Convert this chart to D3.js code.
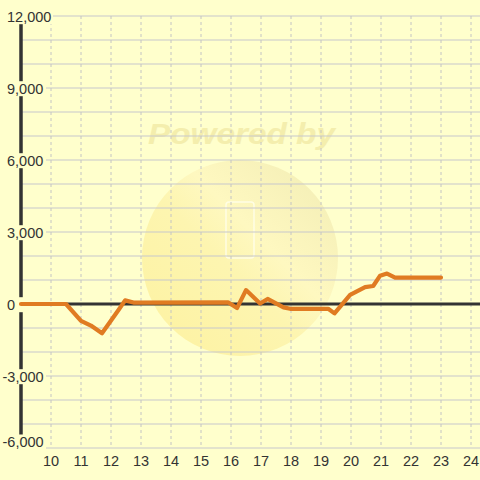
<!DOCTYPE html>
<html><head><meta charset="utf-8">
<script src="https://cdn.jsdelivr.net/npm/d3@7"></script>
<style>html,body{margin:0;padding:0;background:#ffffcc;}svg{display:block;}</style>
</head><body>
<script>
const hours = [9, 10.5, 11.0, 11.33, 11.7, 12.25, 12.47, 12.75, 15.9, 16.2, 16.5, 16.97, 17.22, 17.75, 17.97, 19.24, 19.45, 19.97, 20.47, 20.74, 20.97, 21.2, 21.47, 23.0];
const values = [0, 0, -700, -900, -1220, -250, 150, 60, 70, -170, 580, 20, 210, -140, -200, -200, -390, 380, 700, 750, 1180, 1270, 1100, 1100];
const xTicks = [10, 11, 12, 13, 14, 15, 16, 17, 18, 19, 20, 21, 22, 23, 24];
const yLabelTicks = [12000, 9000, 6000, 3000, 0, -3000, -6000];
const yGridTicks = d3.range(-6000, 12001, 1000);

const W = 480, H = 480;
const svg = d3.select("body").append("svg").attr("width", W).attr("height", H);
const x = d3.scaleLinear().domain([9, 24.3]).range([21, 480]);
const y = d3.scaleLinear().domain([-6000, 12000]).range([448, 16]);

svg.append("rect").attr("width", W).attr("height", H).attr("fill", "#ffffcc");

// watermark
const defs = svg.append("defs");
const g = defs.append("linearGradient").attr("id", "wm").attr("x1", "0").attr("y1", "1").attr("x2", "1").attr("y2", "0");
g.append("stop").attr("offset", "0").attr("stop-color", "#fdf2a0");
g.append("stop").attr("offset", "0.45").attr("stop-color", "#fdf5b0");
g.append("stop").attr("offset", "0.6").attr("stop-color", "#fef8c0");
g.append("stop").attr("offset", "1").attr("stop-color", "#f1ecb4");
svg.append("circle").attr("cx", 240).attr("cy", 258).attr("r", 98).attr("fill", "url(#wm)");
svg.append("rect").attr("x", 226).attr("y", 202).attr("width", 28).attr("height", 56).attr("rx", 3)
  .attr("fill", "none").attr("stroke", "#ffffee").attr("stroke-width", 1.5).attr("opacity", 0.8);
svg.append("text").attr("x", 148).attr("y", 144).attr("font-family", "Liberation Sans, Arial, sans-serif")
  .attr("font-size", 29).attr("font-weight", "bold").attr("font-style", "italic")
  .attr("textLength", 187).attr("lengthAdjust", "spacingAndGlyphs")
  .attr("fill", "#f2eaa6").attr("opacity", 0.8).text("Powered by");

// horizontal grid
svg.append("g").selectAll("line").data(yGridTicks).join("line")
  .attr("x1", x(9)).attr("x2", W).attr("y1", d => y(d)).attr("y2", d => y(d))
  .attr("stroke", "#c8c8cc").attr("stroke-width", 1.2);
// vertical dashed grid
svg.append("g").selectAll("line").data(xTicks).join("line")
  .attr("x1", d => x(d)).attr("x2", d => x(d)).attr("y1", y(12000)).attr("y2", y(-6000))
  .attr("stroke", "#c4c4c4").attr("stroke-width", 1).attr("stroke-dasharray", "3,3");

// y axis line
svg.append("line").attr("x1", x(9)).attr("x2", x(9)).attr("y1", y(12000)).attr("y2", y(-6000))
  .attr("stroke", "#333").attr("stroke-width", 3.5);
// zero line
svg.append("line").attr("x1", x(9)).attr("x2", W).attr("y1", y(0)).attr("y2", y(0))
  .attr("stroke", "#333").attr("stroke-width", 3);

// y labels
const fmt = v => d3.format(",")(v).replace("\u2212", "-");
const yl = svg.append("g").attr("font-family", "Liberation Sans, Arial, sans-serif").attr("font-size", 14.5).attr("fill", "#333");
yLabelTicks.forEach(v => {
  const cy = Math.min(y(v) + 0.7, 442);
  yl.append("rect").attr("x", 0).attr("y", cy - 7.5).attr("width", v === 12000 ? 53 : 46).attr("height", 15).attr("fill", "#ffffcc");
  yl.append("text").attr("x", v < 0 ? 2.5 : 7).attr("y", cy).attr("dy", "0.36em").text(fmt(v));
});

// x labels
svg.append("g").attr("font-family", "Liberation Sans, Arial, sans-serif").attr("font-size", 14.5).attr("fill", "#333")
  .selectAll("text").data(xTicks).join("text")
  .attr("x", d => x(d)).attr("y", 466).attr("text-anchor", "middle").text(d => d);

// series
const line = d3.line().x((d, i) => x(hours[i])).y(d => y(d));
svg.append("path").datum(values).attr("d", line).attr("fill", "none")
  .attr("stroke", "#e07b22").attr("stroke-width", 4.2).attr("stroke-linejoin", "round").attr("stroke-linecap", "round");
</script>
</body></html>
